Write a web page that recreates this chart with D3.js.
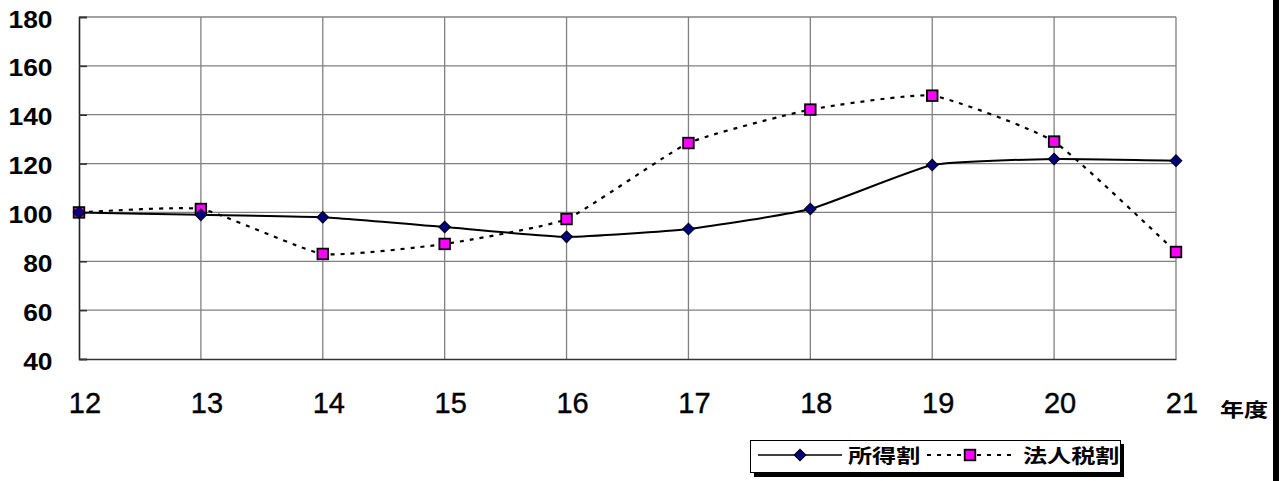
<!DOCTYPE html>
<html>
<head>
<meta charset="utf-8">
<script src="https://cdn.jsdelivr.net/npm/d3@7"></script>
<style>
  html, body { margin: 0; padding: 0; background: #fff; }
  svg { display: block; }
  .num { font-family: "Liberation Sans", Arial, sans-serif; fill: #000; }
  .cjk { font-family: "Noto Sans CJK JP", "Noto Sans CJK SC", sans-serif; font-weight: bold; fill: #000; }
</style>
</head>
<body>
<script>
// 年度 (fiscal years)
const years = ["12", "13", "14", "15", "16", "17", "18", "19", "20", "21"];
// 所得割 index
const shotokuwari = [100, 99, 98, 94, 90, 93.2, 101.4, 119.4, 121.9, 121.2];
// 法人税割 index
const hojinzeiwari = [100, 101.4, 83, 87.1, 97.3, 128.4, 142.1, 147.8, 129, 83.8];
// value axis ticks
const yTicks = [40, 60, 80, 100, 120, 140, 160, 180];
const seriesNames = ["所得割", "法人税割"];

const W = 1282, H = 481;
const plot = { left: 79, right: 1176, top: 17, bottom: 359 };

const svg = d3.select("body").append("svg")
  .attr("width", W).attr("height", H);

const x = d3.scalePoint().domain(years).range([plot.left, plot.right]);
const y = d3.scaleLinear().domain([40, 180]).range([plot.bottom, plot.top]);

// horizontal gridlines
svg.append("g").selectAll("line").data(yTicks.filter(d => d > 40)).join("line")
  .attr("x1", plot.left).attr("x2", plot.right)
  .attr("y1", d => y(d)).attr("y2", d => y(d))
  .attr("stroke", "#808080").attr("stroke-width", 1.3);

// vertical gridlines
svg.append("g").selectAll("line").data(years.slice(1)).join("line")
  .attr("x1", d => x(d)).attr("x2", d => x(d))
  .attr("y1", plot.top).attr("y2", plot.bottom)
  .attr("stroke", "#808080").attr("stroke-width", 1.3);

// value axis with inward ticks
const yAxis = d3.axisLeft(y).tickValues(yTicks).tickSize(-8).tickFormat("");
const yAxisG = svg.append("g").attr("transform", `translate(${plot.left},0)`).call(yAxis);
yAxisG.select(".domain").attr("stroke", "#222").attr("stroke-width", 1.6);
yAxisG.selectAll(".tick line").attr("stroke", "#333").attr("stroke-width", 1.6);

// category axis line
const xAxis = d3.axisBottom(x).tickSize(0).tickFormat("");
const xAxisG = svg.append("g").attr("transform", `translate(0,${plot.bottom})`).call(xAxis);
xAxisG.select(".domain").attr("stroke", "#333").attr("stroke-width", 1.6);

// value labels
svg.append("g").selectAll("text").data(yTicks).join("text")
  .attr("class", "num")
  .attr("text-anchor", "end")
  .attr("font-size", 24).attr("font-weight", "bold")
  .attr("transform", d => `translate(52.5,${y(d) + 10.5}) scale(1.1,1)`)
  .text(d => d);

// category labels
svg.append("g").selectAll("text").data(years).join("text")
  .attr("class", "num")
  .attr("text-anchor", "middle")
  .attr("font-size", 29)
  .attr("stroke", "#000").attr("stroke-width", 0.4)
  .attr("x", d => x(d) + 6).attr("y", 413)
  .text(d => d);

svg.append("text").attr("class", "cjk")
  .attr("font-size", 19)
  .attr("transform", "translate(1220,417) scale(1.27,1)")
  .text("年度");

// series lines (lightly smoothed)
const line = d3.line()
  .x((d, i) => x(years[i]))
  .y(d => y(d))
  .curve(d3.curveCardinal.tension(0.55));

svg.append("path").datum(hojinzeiwari)
  .attr("d", line).attr("fill", "none")
  .attr("stroke", "#000").attr("stroke-width", 2.2)
  .attr("stroke-dasharray", "4,6");

svg.append("path").datum(shotokuwari)
  .attr("d", line).attr("fill", "none")
  .attr("stroke", "#000").attr("stroke-width", 2);

const diamond = d3.symbol().type(d3.symbolSquare).size(68);
function drawDiamond(g, cx, cy) {
  g.append("path").attr("d", diamond())
    .attr("transform", `translate(${cx},${cy}) rotate(45)`)
    .attr("fill", "#000080").attr("stroke", "#000").attr("stroke-width", 1);
}
function drawSquare(g, cx, cy) {
  g.append("rect").attr("x", cx - 5.3).attr("y", cy - 5.3)
    .attr("width", 10.6).attr("height", 10.6)
    .attr("fill", "#ff00ff").attr("stroke", "#000").attr("stroke-width", 1.8);
}

const markers = svg.append("g");
hojinzeiwari.forEach((v, i) => drawSquare(markers, x(years[i]), y(v)));
shotokuwari.forEach((v, i) => drawDiamond(markers, x(years[i]), y(v)));

// legend
const lg = svg.append("g");
lg.append("rect").attr("x", 754).attr("y", 444).attr("width", 370).attr("height", 33).attr("fill", "#000");
lg.append("rect").attr("x", 750.5).attr("y", 440.5).attr("width", 370).attr("height", 32)
  .attr("fill", "#fff").attr("stroke", "#000").attr("stroke-width", 1);
lg.append("line").attr("x1", 758).attr("x2", 842).attr("y1", 455).attr("y2", 455)
  .attr("stroke", "#000").attr("stroke-width", 1.6);
drawDiamond(lg, 800, 455);
lg.append("text").attr("class", "cjk").attr("font-size", 19)
  .attr("transform", "translate(848,463) scale(1.27,1)").text(seriesNames[0]);
lg.append("line").attr("x1", 927).attr("x2", 1013).attr("y1", 455).attr("y2", 455)
  .attr("stroke", "#000").attr("stroke-width", 2).attr("stroke-dasharray", "4,6");
drawSquare(lg, 970, 455);
lg.append("text").attr("class", "cjk").attr("font-size", 19)
  .attr("transform", "translate(1023,463) scale(1.27,1)").text(seriesNames[1]);

// right frame bar
svg.append("rect").attr("x", 1273).attr("y", 0).attr("width", 6).attr("height", H).attr("fill", "#000");
</script>
</body>
</html>
